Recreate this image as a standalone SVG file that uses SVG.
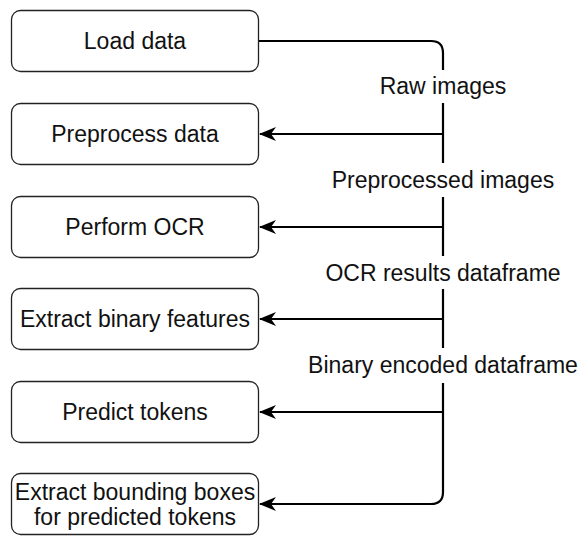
<svg xmlns="http://www.w3.org/2000/svg" width="581" height="536" viewBox="0 0 581 536">
<style>
.box{fill:#fff;stroke:#222;stroke-width:1.3}
.t{font-family:"Liberation Sans",Arial,Helvetica,sans-serif;font-size:23px;fill:#111;text-anchor:middle}
.c{fill:none;stroke:#000;stroke-width:2.2}
.a{marker-end:url(#ah)}
</style>
<defs>
<marker id="ah" viewBox="0 0 17 14" refX="16" refY="7" markerWidth="17" markerHeight="14" markerUnits="userSpaceOnUse" orient="auto">
<path d="M17 7 L0 0 L5 7 L0 14 Z" fill="#000"/>
</marker>
</defs>
<rect width="581" height="536" fill="#fff"/>
<g id="connectors">
<path class="c" d="M259 41 H431 Q443 41 443 53 V70"/>
<path class="c" d="M443 103 V163"/>
<path class="c" d="M443 197 V256"/>
<path class="c" d="M443 289 V348"/>
<path class="c a" d="M443 383 V492 Q443 504 431 504 H260"/>
<path class="c a" d="M443 134 H260"/>
<path class="c a" d="M443 227 H260"/>
<path class="c a" d="M443 319 H260"/>
<path class="c a" d="M443 412 H260"/>
<text class="t" x="443" y="94">Raw images</text>
<text class="t" x="443" y="188">Preprocessed images</text>
<text class="t" x="443" y="281">OCR results dataframe</text>
<text class="t" x="443" y="373">Binary encoded dataframe</text>
</g>
<g id="load">
<rect class="box" x="11.5" y="10.5" width="247" height="61" rx="9"/>
<text class="t" x="135" y="49">Load data</text>
</g>
<g id="preprocess">
<rect class="box" x="11.5" y="103.5" width="247" height="61" rx="9"/>
<text class="t" x="135" y="142">Preprocess data</text>
</g>
<g id="ocr">
<rect class="box" x="11.5" y="196.5" width="247" height="61" rx="9"/>
<text class="t" x="135" y="235">Perform OCR</text>
</g>
<g id="binary">
<rect class="box" x="11.5" y="288.5" width="247" height="61" rx="9"/>
<text class="t" x="135" y="327">Extract binary features</text>
</g>
<g id="predict">
<rect class="box" x="11.5" y="381.5" width="247" height="61" rx="9"/>
<text class="t" x="135" y="420">Predict tokens</text>
</g>
<g id="bbox">
<rect class="box" x="11.5" y="473.5" width="247" height="61" rx="9"/>
<text class="t" x="135" y="500">Extract bounding boxes</text>
<text class="t" x="135" y="525">for predicted tokens</text>
</g>
</svg>
